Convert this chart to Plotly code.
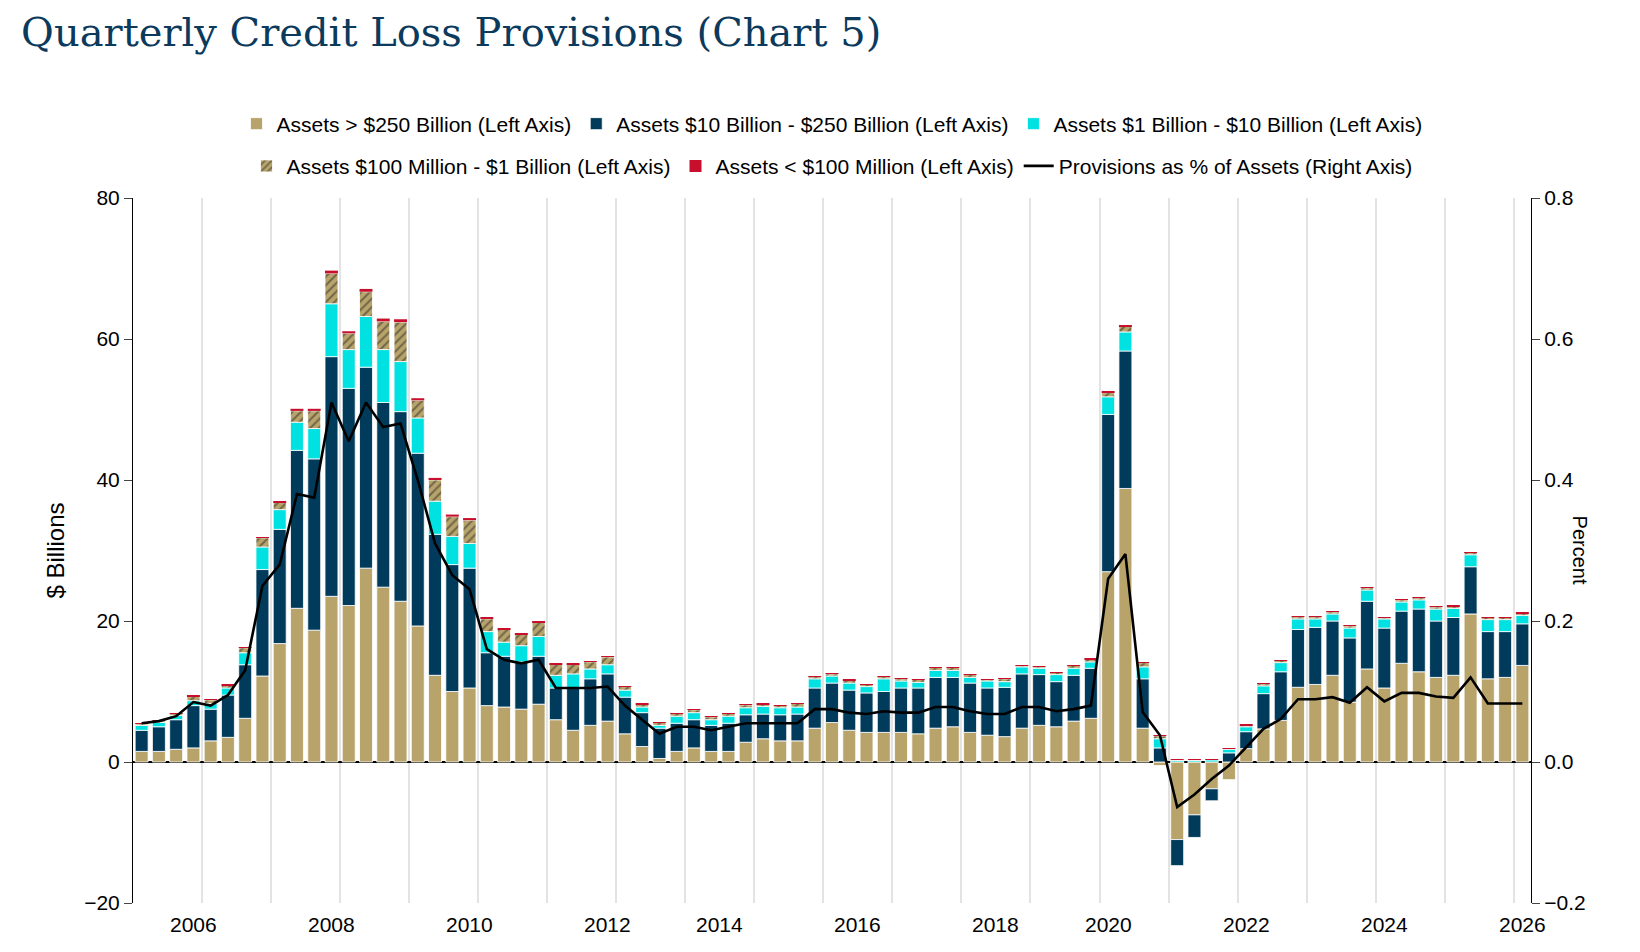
import plotly.graph_objects as go

# quarters 2006Q1 .. 2026Q1
quarters = [f"{y}Q{q}" for y in range(2006, 2027) for q in range(1, 5)][:81]

# $ billions
assets_250b = [1.5, 1.5, 1.8, 2.0, 3.0, 3.5, 6.2, 12.2, 16.8, 21.8, 18.7, 23.5,
               22.2, 27.5, 24.8, 22.8, 19.3, 12.3, 10.0, 10.5, 8.0, 7.8, 7.5, 8.2,
               6.0, 4.5, 5.2, 5.8, 4.0, 2.2, 0.5, 1.5, 2.0, 1.5, 1.5, 2.8,
               3.3, 3.0, 3.0, 4.8, 5.6, 4.5, 4.2, 4.2, 4.2, 4.0, 4.8, 5.0,
               4.2, 3.8, 3.6, 4.8, 5.2, 5.0, 5.8, 6.2, 27.0, 38.8, 4.8, -0.5,
               -11.0, -7.5, -3.8, -2.5, 1.9, 4.7, 5.9, 10.6, 11.0, 12.3, 8.5, 13.2,
               10.5, 14.0, 12.8, 12.0, 12.3, 21.0, 11.8, 12.0, 13.7]
assets_10b_250b = [3.0, 3.5, 4.2, 6.0, 4.5, 6.0, 7.6, 15.1, 16.2, 22.4, 24.3, 34.0,
                   30.8, 28.5, 26.2, 26.9, 24.5, 20.0, 18.0, 17.0, 7.5, 7.2, 6.7, 6.8,
                   4.5, 6.0, 6.6, 6.7, 5.2, 4.8, 4.3, 4.0, 4.0, 3.7, 4.0, 3.9,
                   3.5, 3.7, 3.8, 5.7, 5.6, 5.7, 5.6, 5.8, 6.3, 6.5, 7.2, 7.0,
                   7.0, 6.7, 7.0, 7.7, 7.2, 6.4, 6.5, 7.1, 22.3, 19.5, 7.0, 2.0,
                   -3.7, -3.2, -1.7, 1.3, 2.4, 5.0, 6.9, 8.2, 8.1, 7.7, 9.1, 9.6,
                   8.5, 7.4, 8.9, 8.0, 8.2, 6.7, 6.7, 6.5, 5.9]
assets_1b_10b = [0.7, 0.6, 0.6, 0.7, 0.8, 1.0, 1.7, 3.2, 2.8, 4.0, 4.3, 7.5,
                 5.5, 7.2, 7.5, 7.1, 5.0, 4.7, 4.0, 3.5, 3.0, 2.0, 2.3, 2.8,
                 1.8, 2.0, 1.4, 1.3, 1.0, 0.8, 0.4, 1.0, 1.0, 0.8, 1.0, 1.0,
                 1.1, 1.0, 1.0, 1.3, 1.0, 1.0, 0.9, 1.8, 1.0, 0.8, 1.0, 1.0,
                 0.8, 1.0, 0.8, 1.0, 0.9, 1.0, 1.0, 0.9, 2.5, 2.7, 1.7, 1.3,
                 0.2, 0.2, 0.3, 0.5, 0.7, 1.1, 1.3, 1.5, 1.2, 1.0, 1.4, 1.6,
                 1.3, 1.3, 1.3, 1.7, 1.3, 1.7, 1.7, 1.7, 1.2]
assets_100m_1b = [0.2, 0.3, 0.3, 0.6, 0.5, 0.4, 0.7, 1.3, 1.0, 1.6, 2.5, 4.3,
                  2.3, 3.5, 4.0, 5.6, 2.5, 3.0, 2.8, 3.3, 1.8, 1.8, 1.6, 2.0,
                  1.6, 1.4, 1.0, 1.1, 0.5, 0.4, 0.4, 0.4, 0.4, 0.4, 0.4, 0.4,
                  0.3, 0.3, 0.5, 0.3, 0.3, 0.4, 0.3, 0.3, 0.3, 0.4, 0.4, 0.4,
                  0.4, 0.2, 0.4, 0.2, 0.2, 0.3, 0.4, 0.4, 0.6, 0.8, 0.6, 0.4,
                  0.1, 0.1, 0.1, 0.1, 0.2, 0.3, 0.3, 0.3, 0.3, 0.3, 0.3, 0.3,
                  0.2, 0.3, 0.3, 0.3, 0.3, 0.3, 0.3, 0.3, 0.3]
assets_100m = [0.05, 0.05, 0.05, 0.1, 0.1, 0.1, 0.1, 0.1, 0.2, 0.3, 0.3, 0.4,
               0.3, 0.4, 0.4, 0.4, 0.3, 0.3, 0.3, 0.3, 0.2, 0.2, 0.2, 0.2,
               0.1, 0.1, 0.1, 0.1, 0.05, 0.05, 0.05, 0.05, 0.05, 0.05, 0.05, 0.05,
               0.05, 0.05, 0.05, 0.05, 0.05, 0.05, 0.05, 0.05, 0.05, 0.05, 0.05, 0.05,
               0.05, 0.05, 0.05, 0.05, 0.05, 0.05, 0.05, 0.05, 0.1, 0.1, 0.05, 0.05,
               0.02, 0.02, 0.02, 0.02, 0.05, 0.05, 0.05, 0.05, 0.05, 0.05, 0.05, 0.05,
               0.05, 0.05, 0.05, 0.05, 0.05, 0.05, 0.05, 0.05, 0.05]
# percent of assets
provisions_pct = [0.055, 0.058, 0.065, 0.085, 0.080, 0.095, 0.130, 0.250, 0.280, 0.380, 0.375, 0.510,
                  0.455, 0.510, 0.475, 0.480, 0.400, 0.310, 0.265, 0.245, 0.160, 0.145, 0.140, 0.145,
                  0.105, 0.105, 0.105, 0.107, 0.080, 0.060, 0.040, 0.050, 0.050, 0.045, 0.050, 0.055,
                  0.055, 0.055, 0.055, 0.075, 0.075, 0.070, 0.068, 0.072, 0.070, 0.070, 0.078, 0.078,
                  0.072, 0.068, 0.068, 0.078, 0.078, 0.072, 0.075, 0.080, 0.260, 0.295, 0.071, 0.038,
                  -0.064, -0.046, -0.024, -0.005, 0.021, 0.047, 0.061, 0.089, 0.089, 0.092, 0.084, 0.106,
                  0.086, 0.098, 0.098, 0.093, 0.091, 0.120, 0.083, 0.083, 0.083]

year_labels = list(range(2006, 2027, 2))

x = [int(s[:4]) + (int(s[-1]) - 0.5) / 4 for s in quarters]
X0, X1 = 2006, 2026.25

FONT = "Liberation Sans, Arial, sans-serif"
TAN = "#b8a46a"
NAVY = "#003b5c"
CYAN = "#00e1e1"
RED = "#c8102e"

fig = go.Figure()
bar_line = dict(color="white", width=0.8)
fig.add_bar(x=x, y=assets_250b, name="Assets > $250 Billion (Left Axis)",
            marker=dict(color=TAN, line=bar_line), legend="legend")
fig.add_bar(x=x, y=assets_10b_250b, name="Assets $10 Billion - $250 Billion (Left Axis)",
            marker=dict(color=NAVY, line=bar_line), legend="legend")
fig.add_bar(x=x, y=assets_1b_10b, name="Assets $1 Billion - $10 Billion (Left Axis)",
            marker=dict(color=CYAN, line=bar_line), legend="legend")
fig.add_bar(x=x, y=assets_100m_1b, name="Assets $100 Million - $1 Billion (Left Axis)",
            marker=dict(color=TAN, line=bar_line,
                        pattern=dict(shape="/", fgcolor="#2a2a2a", bgcolor=TAN,
                                     size=6, solidity=0.35)), legend="legend2")
fig.add_bar(x=x, y=assets_100m, name="Assets < $100 Million (Left Axis)",
            marker=dict(color=RED, line=dict(width=0)), legend="legend2")
fig.add_scatter(x=x, y=provisions_pct, yaxis="y2", mode="lines",
                name="Provisions as % of Assets (Right Axis)",
                line=dict(color="black", width=2.6), legend="legend2")

annotations = [dict(x=(yr + 0.5 - X0) / (X1 - X0), y=-0.012, xref="paper", yref="paper",
                    text=str(yr), showarrow=False, yanchor="top",
                    font=dict(size=21, family=FONT))
               for yr in year_labels]
annotations.append(dict(x=1.045, y=0.5, xref="paper", yref="paper", text="Percent",
                        textangle=90, showarrow=False, font=dict(size=20, family=FONT)))

legend_style = dict(orientation="h", x=0.5, xanchor="center", yanchor="middle",
                    traceorder="normal", font=dict(size=21, family=FONT), itemwidth=30)

fig.update_layout(
    width=1640, height=952,
    barmode="relative", bargap=0.25,
    plot_bgcolor="white", paper_bgcolor="white",
    margin=dict(l=125, r=117, t=190, b=57),
    font=dict(family=FONT, size=20, color="black"),
    title=dict(text="Quarterly Credit Loss Provisions (Chart 5)", x=0.008, xanchor="left",
               y=0.99, yanchor="top",
               font=dict(family="DejaVu Serif, serif", size=40, color="#0b3a5c")),
    legend=dict(legend_style, y=1.105),
    legend2=dict(legend_style, y=1.045),
    xaxis=dict(range=[X0, X1], tickvals=list(range(2006, 2027)),
               showticklabels=False, ticks="", showgrid=True, gridcolor="#e3e3e3",
               gridwidth=1.5, zeroline=False, showline=False),
    yaxis=dict(range=[-20, 80], dtick=20, ticks="outside", ticklen=8, showline=True,
               linecolor="black", showgrid=False, zeroline=True, zerolinecolor="black",
               zerolinewidth=1.5, tickfont=dict(size=21),
               title=dict(text="$ Billions", standoff=12)),
    yaxis2=dict(range=[-0.2, 0.8], dtick=0.2, tickformat=".1f", overlaying="y",
                side="right", ticks="outside", ticklen=8, showline=True,
                linecolor="black", showgrid=False, zeroline=False, tickfont=dict(size=21)),
    annotations=annotations,
)

fig.write_html("out.html")
